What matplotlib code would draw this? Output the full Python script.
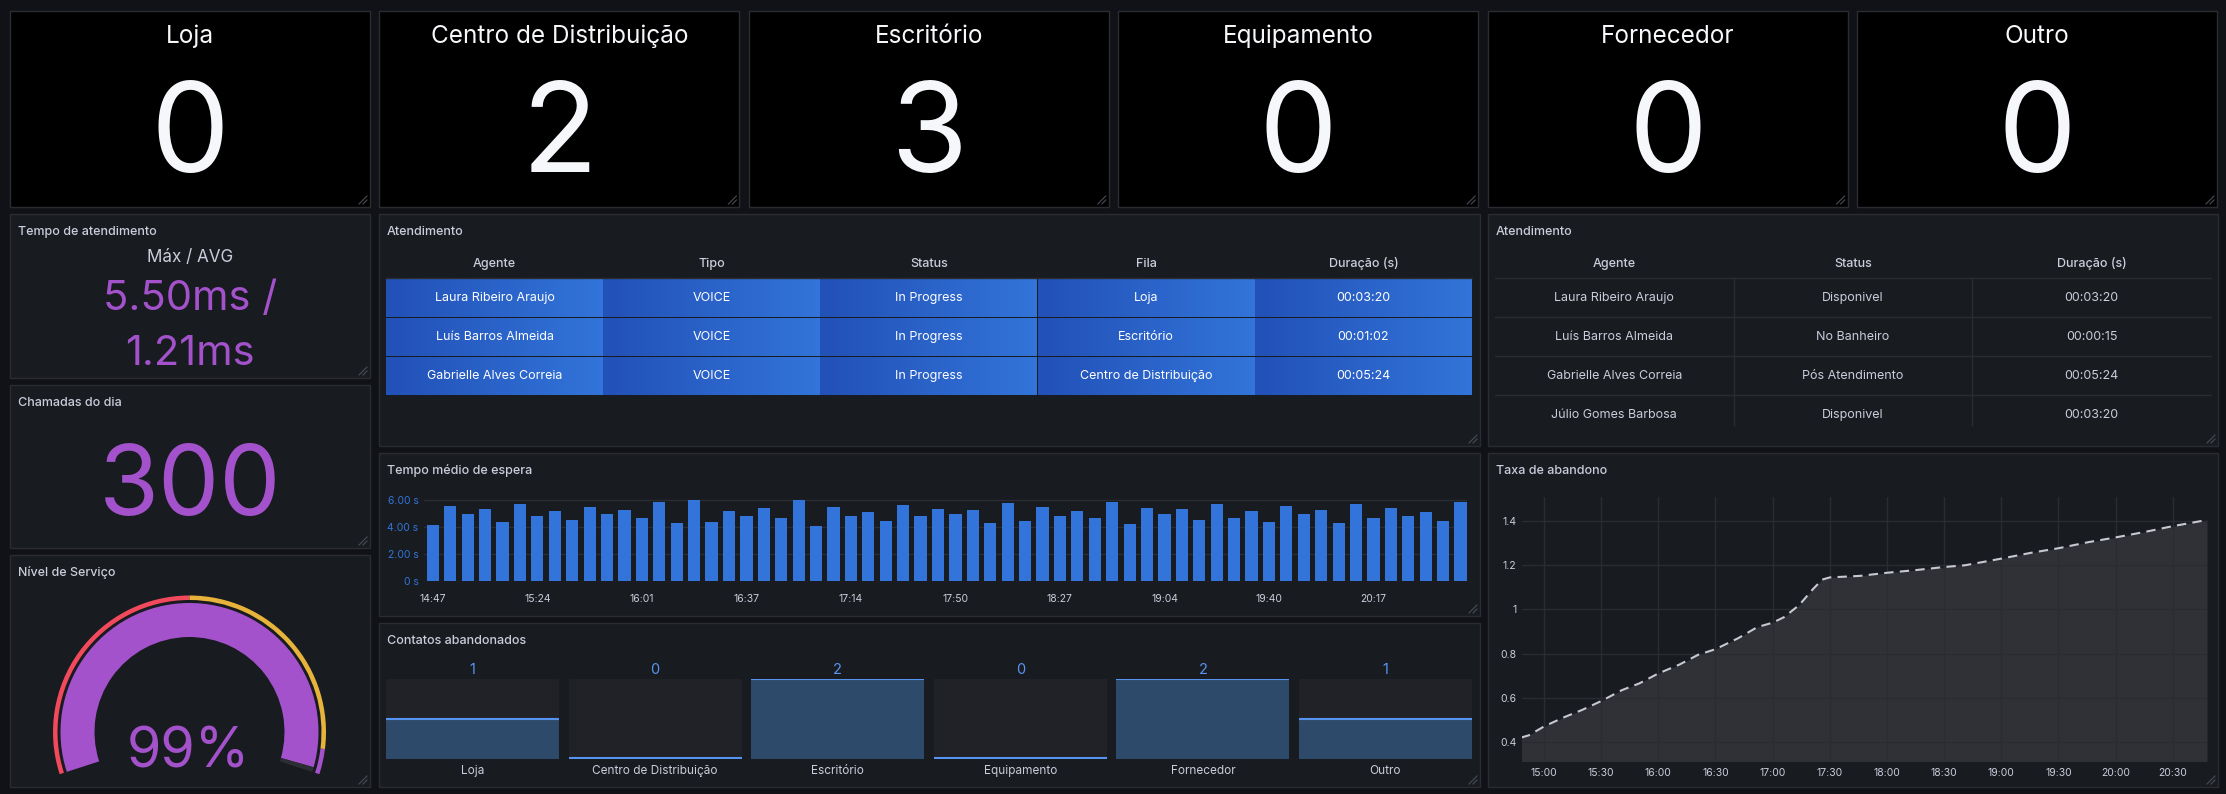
import matplotlib
matplotlib.use('Agg')
import matplotlib.pyplot as plt
from matplotlib.patches import Rectangle, Wedge
from matplotlib.colors import LinearSegmentedColormap
import numpy as np

plt.rcParams['font.family'] = ['Inter', 'DejaVu Sans']

W, H, DPI = 2226, 794, 100

# ---------------- data ----------------
queue_names = ['Loja', 'Centro de Distribuição', 'Escritório', 'Equipamento', 'Fornecedor', 'Outro']
queue_counts = [0, 2, 3, 0, 0, 0]

tempo_label = 'Máx / AVG'
tempo_max_ms = 5.50
tempo_avg_ms = 1.21
chamadas_do_dia = 300
nivel_servico = 99
gauge_min, gauge_max = 0, 100
gauge_steps = [0, 50, 95]
gauge_step_colors = ['#f2495c', '#e8b33a', '#a352cc']

atend_headers = ['Agente', 'Tipo', 'Status', 'Fila', 'Duração (s)']
atend_agents = ['Laura Ribeiro Araujo', 'Luís Barros Almeida', 'Gabrielle Alves Correia']
atend_tipos = ['VOICE', 'VOICE', 'VOICE']
atend_status = ['In Progress', 'In Progress', 'In Progress']
atend_filas = ['Loja', 'Escritório', 'Centro de Distribuição']
atend_duracao = ['00:03:20', '00:01:02', '00:05:24']

agentes_headers = ['Agente', 'Status', 'Duração (s)']
agentes_nomes = ['Laura Ribeiro Araujo', 'Luís Barros Almeida', 'Gabrielle Alves Correia', 'Júlio Gomes Barbosa']
agentes_status = ['Disponivel', 'No Banheiro', 'Pós Atendimento', 'Disponivel']
agentes_duracao = ['00:03:20', '00:00:15', '00:05:24', '00:03:20']

espera_segundos = [4.18, 5.53, 4.93, 5.30, 4.40, 5.68, 4.85, 5.15, 4.55, 5.45,
                   5.00, 5.23, 4.70, 5.83, 4.33, 5.98, 4.40, 5.15, 4.85, 5.38,
                   4.63, 5.98, 4.10, 5.45, 4.85, 5.08, 4.48, 5.60, 4.78, 5.30,
                   5.00, 5.23, 4.33, 5.75, 4.48, 5.45, 4.78, 5.15, 4.63, 5.83,
                   4.25, 5.38, 4.93, 5.30, 4.55, 5.68, 4.70, 5.15, 4.40, 5.53,
                   5.00, 5.23, 4.33, 5.68, 4.63, 5.38, 4.78, 5.08, 4.48, 5.83]
espera_tick_labels = ['14:47', '15:24', '16:01', '16:37', '17:14', '17:50', '18:27', '19:04', '19:40', '20:17']
espera_ticks_y = [0, 2, 4, 6]

abandonados = [1, 0, 2, 0, 2, 1]

taxa_horas = ['14:48', '14:52', '15:00', '15:10', '15:20', '15:30', '15:41', '15:50', '16:00',
              '16:11', '16:21', '16:30', '16:42', '16:52', '17:00', '17:06', '17:14', '17:21',
              '17:26', '17:30', '17:46', '18:00', '18:15', '18:30', '18:41', '19:00', '19:16',
              '19:30', '19:46', '20:00', '20:16', '20:30', '20:48']
taxa_valores = [0.42, 0.43, 0.47, 0.51, 0.545, 0.585, 0.635, 0.665, 0.71,
                0.75, 0.795, 0.82, 0.87, 0.92, 0.94, 0.965, 1.02, 1.09,
                1.135, 1.145, 1.152, 1.166, 1.178, 1.192, 1.20, 1.23, 1.257,
                1.277, 1.305, 1.326, 1.352, 1.377, 1.405]
taxa_ticks_x = ['15:00', '15:30', '16:00', '16:30', '17:00', '17:30', '18:00', '18:30',
                '19:00', '19:30', '20:00', '20:30']
taxa_ticks_y = [0.4, 0.6, 0.8, 1.0, 1.2, 1.4]

# ---------------- style ----------------
PAGE = '#111217'
PANEL = '#181b1f'
BORDER = '#2a2c31'
TEXT = '#ccccdc'
WHITE = '#f5f7fa'
PURPLE = '#a352cc'
BLUE = '#3274d9'
LBLUE = '#5794f2'
GRID = '#2a2c31'


def to_min(s):
    h, m = s.split(':')
    return int(h) * 60 + int(m)


fig = plt.figure(figsize=(W / DPI, H / DPI), dpi=DPI, facecolor=PAGE)
bg = fig.add_axes([0, 0, 1, 1])
bg.set_xlim(0, W)
bg.set_ylim(H, 0)
bg.axis('off')
bg.set_autoscale_on(False)


def px_axes(x0, y0, x1, y1):
    return fig.add_axes([x0 / W, 1 - y1 / H, (x1 - x0) / W, (y1 - y0) / H])


def panel(x0, y0, x1, y1, title=None, face=PANEL):
    bg.add_patch(Rectangle((x0, y0), x1 - x0, y1 - y0, facecolor=face,
                           edgecolor=BORDER, lw=1, zorder=1))
    if title:
        bg.text(x0 + 8, y0 + 21, title, fontsize=9, fontweight='medium', color=TEXT,
                ha='left', va='baseline', zorder=5)
    for d in (4, 8):
        bg.plot([x1 - 3 - d, x1 - 3], [y1 - 3, y1 - 3 - d], color='#4a4d55', lw=0.8, zorder=5)


# ---------------- top stat panels ----------------
for i, (name, val) in enumerate(zip(queue_names, queue_counts)):
    x0 = 10 + i * 369.4
    x1 = x0 + 360
    panel(x0, 11, x1, 207, face='#000000')
    cx = (x0 + x1) / 2
    bg.text(cx, 43, name, fontsize=17.5, color=WHITE, ha='center', va='baseline', zorder=5)
    bg.text(cx, 172, str(val), fontsize=90, color=WHITE, ha='center', va='baseline', zorder=5)

# ---------------- Tempo de atendimento ----------------
panel(10, 214, 370, 378, 'Tempo de atendimento')
bg.text(190, 262, tempo_label, fontsize=12.3, color=TEXT, ha='center', va='baseline', zorder=5)
bg.text(190, 310, f'{tempo_max_ms:.2f}ms /', fontsize=30, color=PURPLE, ha='center', va='baseline', zorder=5)
bg.text(190, 365, f'{tempo_avg_ms:.2f}ms', fontsize=30, color=PURPLE, ha='center', va='baseline', zorder=5)

# ---------------- Chamadas do dia ----------------
panel(10, 385, 370, 548, 'Chamadas do dia')
bg.text(190, 515, str(chamadas_do_dia), fontsize=70, color=PURPLE, ha='center', va='baseline', zorder=5)

# ---------------- Nivel de Servico gauge ----------------
panel(10, 555, 370, 787, 'Nível de Serviço')
gcx, gcy = 189.5, 732
A0, SWEEP = 198.0, 216.0


def ang(v):
    return A0 - (v - gauge_min) / (gauge_max - gauge_min) * SWEEP


def arc(v0, v1, r_out, width, color):
    # y axis is inverted in bg, so screen angles are negated
    bg.add_patch(Wedge((gcx, gcy), r_out, -ang(v0), -ang(v1), width=width,
                       facecolor=color, edgecolor='none', zorder=3))


bounds = gauge_steps + [gauge_max]
for k, col in enumerate(gauge_step_colors):
    arc(bounds[k], bounds[k + 1], 136.5, 4.5, col)
arc(gauge_min, nivel_servico, 129, 34, PURPLE)
arc(nivel_servico, gauge_max, 129, 34, '#2c2e34')
bg.text(188, 767, f'{nivel_servico}%', fontsize=40, color=PURPLE, ha='center', va='baseline', zorder=5)

# ---------------- Atendimento (middle table) ----------------
panel(379, 214, 1480, 446, 'Atendimento')
tx0, tx1 = 386, 1472
cw = (tx1 - tx0) / len(atend_headers)
cmap = LinearSegmentedColormap.from_list('cell', ['#2251b8', '#3274d9'])
grad = np.linspace(0, 1, 64).reshape(1, -1)
for c, hname in enumerate(atend_headers):
    bg.text(tx0 + (c + 0.5) * cw, 264, hname, fontsize=9, fontweight='medium', color=TEXT,
            ha='center', va='center', zorder=5)
bg.plot([tx0, tx1], [278, 278], color=GRID, lw=1, zorder=4)
cols = [atend_agents, atend_tipos, atend_status, atend_filas, atend_duracao]
row_h = 39
for r in range(len(atend_agents)):
    yt = 279 + r * row_h
    yb = yt + row_h - 1
    for c, col in enumerate(cols):
        xl = tx0 + c * cw
        bg.imshow(grad, cmap=cmap, extent=(xl, xl + cw - 1, yb, yt), aspect='auto',
                  interpolation='bilinear', zorder=2)
        bg.text(xl + cw / 2, (yt + yb) / 2, col[r], fontsize=9, color='#ffffff',
                ha='center', va='center', zorder=5)

# ---------------- Atendimento (right table) ----------------
panel(1488, 214, 2218, 446, 'Atendimento')
rx0, rx1 = 1495, 2211
rcw = (rx1 - rx0) / len(agentes_headers)
for c, hname in enumerate(agentes_headers):
    bg.text(rx0 + (c + 0.5) * rcw, 264, hname, fontsize=9, fontweight='medium', color=TEXT,
            ha='center', va='center', zorder=5)
rcols = [agentes_nomes, agentes_status, agentes_duracao]
for r in range(len(agentes_nomes)):
    y_line = 278 + r * row_h
    bg.plot([rx0, rx1], [y_line, y_line], color=GRID, lw=1, zorder=4)
    for c, col in enumerate(rcols):
        bg.text(rx0 + (c + 0.5) * rcw, y_line + 20, col[r], fontsize=9, color=TEXT,
                ha='center', va='center', zorder=5)
for c in range(1, len(agentes_headers)):
    bg.plot([rx0 + c * rcw] * 2, [278, 425], color=GRID, lw=1, zorder=4)

# ---------------- Tempo medio de espera ----------------
panel(379, 453, 1480, 616, 'Tempo médio de espera')
ax = px_axes(424, 490, 1467, 581)
ax.set_facecolor('none')
xs = np.arange(len(espera_segundos))
ax.bar(xs, espera_segundos, width=0.7, color=BLUE, zorder=3)
ax.set_xlim(-0.51, 59.37)
ax.set_ylim(0, 6 * 91 / 81)
ax.set_yticks(espera_ticks_y)
ax.set_yticklabels(['0 s' if v == 0 else f'{v:.2f} s' for v in espera_ticks_y])
ax.set_xticks(xs[::6])
ax.set_xticklabels(espera_tick_labels)
ax.tick_params(axis='y', colors=BLUE, labelsize=7.5, length=0, pad=4)
ax.tick_params(axis='x', colors=TEXT, labelsize=7.5, length=0, pad=9)
ax.grid(axis='y', color=GRID, lw=1, zorder=0)
for s in ax.spines.values():
    s.set_visible(False)

# ---------------- Contatos abandonados ----------------
panel(379, 623, 1480, 787, 'Contatos abandonados')
vmax = max(abandonados)
for i, (name, v) in enumerate(zip(queue_names, abandonados)):
    x0 = 386 + i * 182.6
    x1 = x0 + 173
    a = px_axes(x0, 679, x1, 759)
    a.set_facecolor('#202228')
    a.set_xlim(0, 1)
    a.set_ylim(-0.02, vmax)
    a.bar(0.5, v + 0.02, bottom=-0.02, width=1, color='#2e4a6b')
    a.axhline(v, color=LBLUE, lw=1.5)
    a.set_xticks([])
    a.set_yticks([])
    for s in a.spines.values():
        s.set_visible(False)
    cx = (x0 + x1) / 2
    bg.text(cx, 670, str(v), fontsize=10.5, color=LBLUE, ha='center', va='center', zorder=5)
    bg.text(cx, 771, name, fontsize=8.5, color=TEXT, ha='center', va='center', zorder=5)

# ---------------- Taxa de abandono ----------------
panel(1488, 453, 2218, 787, 'Taxa de abandono')
ax2 = px_axes(1522, 497, 2207, 761)
ax2.set_facecolor('none')
tx = [to_min(t) for t in taxa_horas]
ylo, yhi = 0.314, 1.509
ax2.fill_between(tx, taxa_valores, ylo - 1, color='#303137', lw=0, zorder=1)
ax2.plot(tx, taxa_valores, color='#c8c8d0', lw=1.5, linestyle=(0, (4.5, 3)), zorder=3)
ax2.set_xlim(888.5, 1248)
ax2.set_ylim(ylo, yhi)
ax2.set_xticks([to_min(t) for t in taxa_ticks_x])
ax2.set_xticklabels(taxa_ticks_x)
ax2.set_yticks(taxa_ticks_y)
ax2.set_yticklabels([f'{v:g}' for v in taxa_ticks_y])
ax2.tick_params(colors=TEXT, labelsize=7.5, length=0)
ax2.tick_params(axis='y', pad=4)
ax2.tick_params(axis='x', pad=5)
ax2.grid(True, color=GRID, lw=1, zorder=2)
ax2.set_axisbelow(False)
for s in ax2.spines.values():
    s.set_visible(False)

bg.set_xlim(0, W)
bg.set_ylim(H, 0)
fig.savefig('out.png', dpi=DPI, facecolor=PAGE)
